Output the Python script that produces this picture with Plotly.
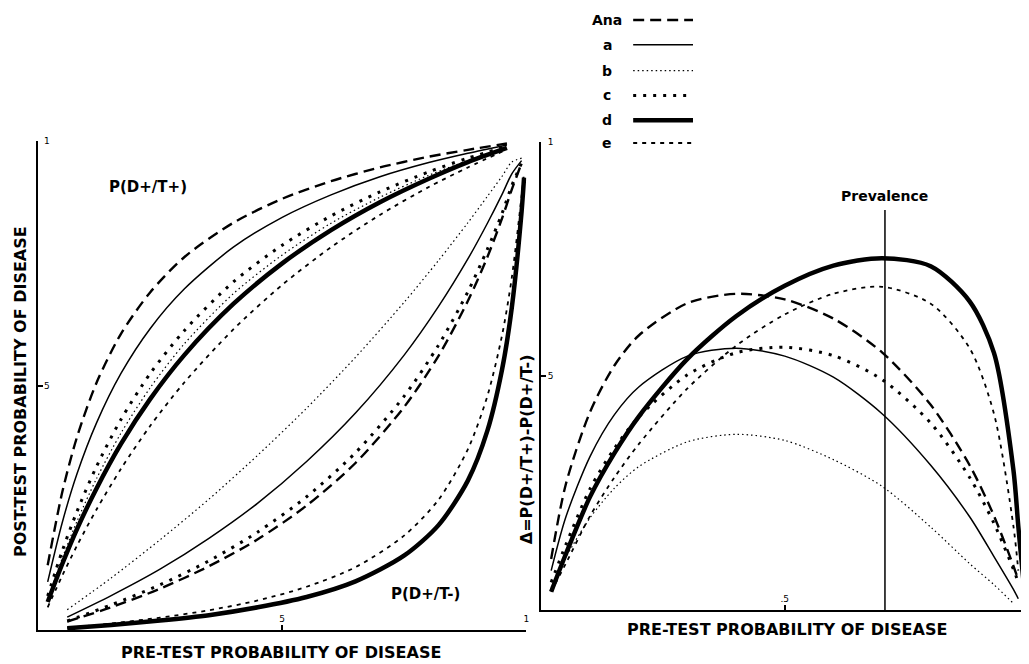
import plotly.graph_objects as go

# ---------------- data ----------------
tests = ["Ana", "a", "b", "c", "d", "e"]

# left panel: P(D+/T+) against pre-test probability
pre_pos = [0.02, 0.05, 0.08, 0.12, 0.17, 0.23, 0.3, 0.4, 0.5, 0.6, 0.7, 0.8, 0.88, 0.96]
pos_ana = [0.133, 0.283, 0.395, 0.506, 0.606, 0.691, 0.763, 0.833, 0.882, 0.918, 0.946, 0.968, 0.982, 0.995]
pos_a = [0.099, 0.221, 0.320, 0.424, 0.525, 0.617, 0.698, 0.783, 0.844, 0.890, 0.927, 0.956, 0.975, 0.992]
pos_b = [0.063, 0.148, 0.223, 0.310, 0.403, 0.496, 0.586, 0.688, 0.767, 0.832, 0.885, 0.930, 0.960, 0.988]
pos_c = [0.070, 0.163, 0.243, 0.335, 0.431, 0.525, 0.613, 0.712, 0.787, 0.847, 0.896, 0.937, 0.965, 0.989]
pos_d = [0.058, 0.136, 0.207, 0.290, 0.381, 0.473, 0.563, 0.667, 0.750, 0.818, 0.875, 0.923, 0.957, 0.986]
pos_e = [0.047, 0.112, 0.173, 0.247, 0.330, 0.418, 0.507, 0.615, 0.706, 0.783, 0.849, 0.906, 0.946, 0.983]

# left panel: P(D+/T-) against pre-test probability
pre_neg = [0.06, 0.15, 0.25, 0.35, 0.45, 0.55, 0.65, 0.75, 0.82, 0.88, 0.92, 0.95, 0.97, 0.99, 0.995]
neg_ana = [0.018, 0.047, 0.085, 0.131, 0.186, 0.255, 0.342, 0.457, 0.561, 0.673, 0.763, 0.842, 0.901, 0.955, None]
neg_a = [0.027, 0.071, 0.125, 0.188, 0.260, 0.345, 0.444, 0.563, 0.662, 0.759, 0.832, 0.891, 0.933, 0.960, None]
neg_b = [0.042, 0.107, 0.185, 0.268, 0.358, 0.454, 0.558, 0.671, 0.756, 0.833, 0.887, 0.928, 0.957, 0.965, None]
neg_c = [0.019, 0.052, 0.093, 0.142, 0.201, 0.273, 0.363, 0.479, 0.583, 0.692, 0.779, 0.852, 0.909, 0.955, None]
neg_d = [0.004, 0.011, 0.020, 0.031, 0.047, 0.068, 0.100, 0.153, 0.215, 0.306, 0.408, 0.533, 0.660, 0.856, 0.925]
neg_e = [0.005, 0.014, 0.026, 0.041, 0.061, 0.089, 0.129, 0.194, 0.267, 0.370, 0.479, 0.603, 0.721, 0.888, 0.935]

# right panel: delta = P(D+/T+) - P(D+/T-)
pre_delta = [0.02, 0.05, 0.1, 0.15, 0.2, 0.3, 0.4, 0.5, 0.6, 0.7, 0.8, 0.88, 0.93, 0.97, 0.98, 0.99, 0.995]
delta_ana = [0.110, 0.269, 0.424, 0.523, 0.587, 0.656, 0.676, 0.664, 0.623, 0.551, 0.439, 0.310, 0.202, 0.095, 0.065, None, None]
delta_a = [0.085, 0.199, 0.329, 0.418, 0.477, 0.543, 0.560, 0.543, 0.498, 0.420, 0.310, 0.200, 0.115, 0.045, 0.025, None, None]
delta_b = [0.049, 0.113, 0.198, 0.261, 0.307, 0.360, 0.376, 0.363, 0.322, 0.265, 0.178, 0.100, 0.055, 0.015, None, None, None]
delta_c = [0.060, 0.140, 0.260, 0.346, 0.413, 0.503, 0.550, 0.562, 0.544, 0.493, 0.400, 0.284, 0.186, 0.088, 0.060, None, None]
delta_d = [0.040, 0.120, 0.243, 0.336, 0.414, 0.537, 0.628, 0.693, 0.736, 0.752, 0.735, 0.660, 0.550, 0.300, 0.180, 0.070, 0.025]
delta_e = [0.040, 0.100, 0.202, 0.284, 0.355, 0.474, 0.565, 0.632, 0.676, 0.691, 0.655, 0.560, 0.420, 0.180, 0.085, None, None]

prevalence = 0.706
prevalence_line = [0.0, 0.855]

axis_ticks = [0.5, 1.0]
axis_ticktext = ["5", "1"]

pos_series = [pos_ana, pos_a, pos_b, pos_c, pos_d, pos_e]
neg_series = [neg_ana, neg_a, neg_b, neg_c, neg_d, neg_e]
delta_series = [delta_ana, delta_a, delta_b, delta_c, delta_d, delta_e]

# ---------------- styles ----------------
W, H = 1029, 664
OFF = 8  # page body margin of the browser
FONT = "DejaVu Sans"
styles = {
    "Ana": dict(width=2.4, dash="11px,6px"),
    "a": dict(width=1.5, dash="solid"),
    "b": dict(width=1.2, dash="1.5px,3px"),
    "c": dict(width=3.0, dash="3px,7px"),
    "d": dict(width=4.5, dash="solid"),
    "e": dict(width=1.8, dash="4px,5px"),
}


def px(x):
    return (x - OFF) / W


def py(y):
    return 1 - (y - OFF) / H


fig = go.Figure()

for name, ys in zip(tests, pos_series):
    fig.add_trace(go.Scatter(x=pre_pos, y=ys, mode="lines", xaxis="x", yaxis="y",
                             line=dict(color="black", shape="spline", smoothing=0.8, **styles[name]),
                             name=name, showlegend=False, hoverinfo="skip"))
for name, ys in zip(tests, neg_series):
    fig.add_trace(go.Scatter(x=pre_neg, y=ys, mode="lines", xaxis="x", yaxis="y",
                             line=dict(color="black", shape="spline", smoothing=0.8, **styles[name]),
                             name=name, showlegend=False, hoverinfo="skip", connectgaps=False))
for name, ys in zip(tests, delta_series):
    fig.add_trace(go.Scatter(x=pre_delta, y=ys, mode="lines", xaxis="x2", yaxis="y2",
                             line=dict(color="black", shape="spline", smoothing=0.8, **styles[name]),
                             name=name, showlegend=False, hoverinfo="skip", connectgaps=False))

fig.add_trace(go.Scatter(x=[prevalence, prevalence], y=prevalence_line, mode="lines",
                         xaxis="x2", yaxis="y2", line=dict(color="black", width=1.5),
                         showlegend=False, hoverinfo="skip"))

axis_common = dict(showline=True, linecolor="black", linewidth=2, showgrid=False, zeroline=False,
                   ticks="inside", ticklen=5, tickwidth=1.5, tickcolor="black",
                   ticklabelposition="inside", ticklabeloverflow="allow",
                   tickfont=dict(family=FONT, size=9, color="black"),
                   fixedrange=True)

fig.update_layout(
    width=W, height=H, margin=dict(l=0, r=0, t=0, b=0),
    paper_bgcolor="white", plot_bgcolor="white", showlegend=False,
    xaxis=dict(domain=[px(38), px(528)], range=[0, 1], anchor="y",
               tickvals=axis_ticks, ticktext=axis_ticktext, **axis_common),
    yaxis=dict(domain=[py(630), py(137)], range=[0, 1], anchor="x",
               tickvals=axis_ticks, ticktext=axis_ticktext, **axis_common),
    xaxis2=dict(domain=[px(543), px(1029)], range=[0, (1029 - 543) / 488], anchor="y2",
                tickvals=[0.5], ticktext=[".5"], **axis_common),
    yaxis2=dict(domain=[py(610), py(138)], range=[0, 1], anchor="x2",
                tickvals=axis_ticks, ticktext=axis_ticktext, **axis_common),
)

bold = dict(family=FONT, color="black", weight=700)
annots = [
    dict(text="PRE-TEST PROBABILITY OF DISEASE", x=px(282), y=py(652), size=16, angle=0),
    dict(text="PRE-TEST PROBABILITY OF DISEASE", x=px(789), y=py(629), size=16, angle=0),
    dict(text="POST-TEST PROBABILITY OF DISEASE", x=px(20), y=py(389), size=16, angle=-90),
    dict(text="Δ=P(D+/T+)-P(D+/T-)", x=px(528), y=py(447), size=16, angle=-90),
    dict(text="P(D+/T+)", x=px(148), y=py(183), size=15, angle=0),
    dict(text="P(D+/T-)", x=px(427), y=py(593), size=15, angle=0),
    dict(text="Prevalence", x=px(887), y=py(192), size=14, angle=0),
]
for a in annots:
    fig.add_annotation(text=a["text"], x=a["x"], y=a["y"], xref="paper", yref="paper",
                       xanchor="center", yanchor="middle", showarrow=False, textangle=a["angle"],
                       font=dict(size=a["size"], **bold))

# legend drawn at the top centre (label left of line sample)
legend_rows = [15, 40, 66, 91, 116, 139]
for name, yrow in zip(tests, legend_rows):
    fig.add_annotation(text=name, x=px(609), y=py(yrow), xref="paper", yref="paper",
                       xanchor="center", yanchor="middle", showarrow=False,
                       font=dict(size=14, **bold))
    st = styles[name]
    fig.add_shape(type="line", xref="paper", yref="paper", x0=px(635), x1=px(695),
                  y0=py(yrow), y1=py(yrow),
                  line=dict(color="black", width=st["width"], dash=st["dash"]))

fig.write_html("out.html")
